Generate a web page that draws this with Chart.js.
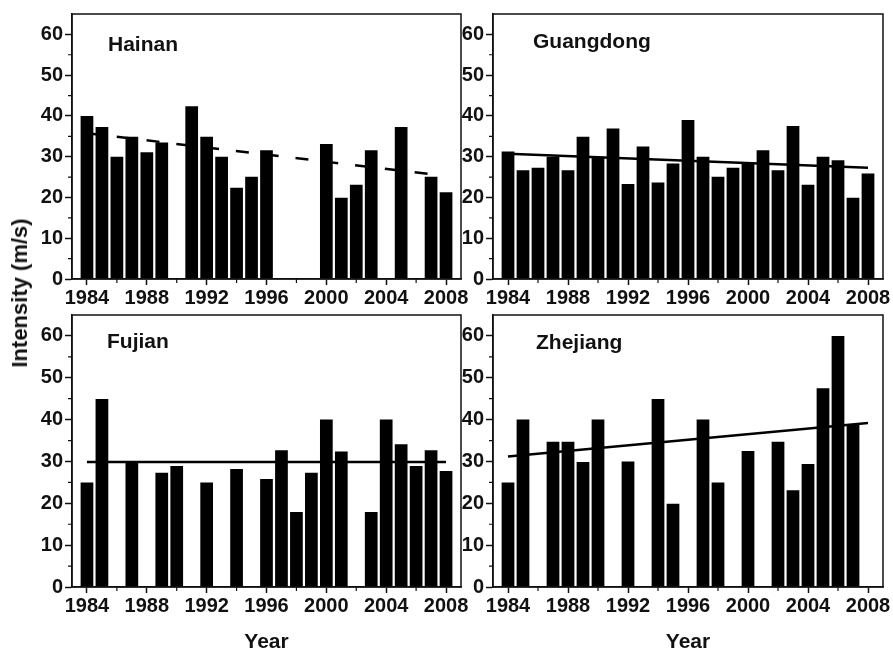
<!DOCTYPE html>
<html lang="en">
<head>
<meta charset="UTF-8">
<title>Typhoon intensity by province, 1984-2008</title>
<script src="https://cdn.jsdelivr.net/npm/chart.js"></script>
<style>
  body { margin: 0; background: #fff; width: 893px; height: 653px; overflow: hidden; position: relative; }
  canvas { position: absolute; }
  #ytitle {
    position: absolute; left: 20px; top: 293px;
    transform: translate(-50%, -50%) rotate(-90deg);
    font: bold 22px "Liberation Sans", Arial, sans-serif; color: #111; white-space: nowrap;
  }
</style>
</head>
<body>
<canvas id="hainan" width="470" height="310" style="left:0;top:0"></canvas>
<canvas id="guangdong" width="453" height="310" style="left:440px;top:0"></canvas>
<canvas id="fujian" width="470" height="353" style="left:0;top:300px"></canvas>
<canvas id="zhejiang" width="453" height="353" style="left:440px;top:300px"></canvas>
<div id="ytitle">Intensity (m/s)</div>

<script>
// values (m/s), years without a bar are left out
const hainanYears = [1984, 1985, 1986, 1987, 1988, 1989, 1991, 1992, 1993, 1994, 1995, 1996, 2000, 2001, 2002, 2003, 2005, 2007, 2008];
const hainanValues = [40, 37.3, 30, 34.9, 31.1, 33.5, 42.4, 34.9, 30, 22.4, 25.1, 31.6, 33.1, 19.9, 23.1, 31.6, 37.3, 25.1, 21.3];
const hainanTrendYears = [1984, 2007];
const hainanTrend = [35.75, 25.7];

const guangdongYears = [1984, 1985, 1986, 1987, 1988, 1989, 1990, 1991, 1992, 1993, 1994, 1995, 1996, 1997, 1998, 1999, 2000, 2001, 2002, 2003, 2004, 2005, 2006, 2007, 2008];
const guangdongValues = [31.3, 26.7, 27.3, 30, 26.7, 34.9, 30, 36.9, 23.3, 32.5, 23.7, 28.3, 39, 30, 25.1, 27.3, 28.3, 31.6, 26.7, 37.5, 23.1, 30, 29.1, 19.9, 25.9];
const guangdongTrendYears = [1984, 2008];
const guangdongTrend = [30.7, 27.3];

const fujianYears = [1984, 1985, 1987, 1989, 1990, 1992, 1994, 1996, 1997, 1998, 1999, 2000, 2001, 2003, 2004, 2005, 2006, 2007, 2008];
const fujianValues = [25, 44.9, 30, 27.3, 28.9, 25, 28.2, 25.8, 32.7, 17.9, 27.3, 40, 32.4, 17.9, 40, 34.1, 28.9, 32.7, 27.7];
const fujianTrendYears = [1984, 2008];
const fujianTrend = [29.9, 29.9];

const zhejiangYears = [1984, 1985, 1987, 1988, 1989, 1990, 1992, 1994, 1995, 1997, 1998, 2000, 2002, 2003, 2004, 2005, 2006, 2007];
const zhejiangValues = [25, 40, 34.7, 34.7, 29.9, 40, 30, 44.9, 19.9, 40, 25, 32.5, 34.7, 23.1, 29.4, 47.5, 60, 38.7];
const zhejiangTrendYears = [1984, 2008];
const zhejiangTrend = [31.2, 39.2];

const FONT = '"Liberation Sans", Arial, sans-serif';
const INK = '#111';

// box around the plot, minor ticks and the province name inside the panel
const framePlugin = {
  id: 'frame',
  afterDraw(chart, args, o) {
    const { ctx, chartArea: a, scales: { x, y } } = chart;
    ctx.save();
    ctx.strokeStyle = INK;
    ctx.lineWidth = 1.5;
    ctx.strokeRect(a.left, a.top, a.right - a.left, a.bottom - a.top);
    ctx.lineWidth = 1.2;
    ctx.beginPath();
    for (let v = 5; v < 65; v += 10) {
      const py = y.getPixelForValue(v);
      ctx.moveTo(a.left - 4, py);
      ctx.lineTo(a.left, py);
    }
    for (let yr = 1986; yr < 2009; yr += 4) {
      const px = x.getPixelForValue(yr);
      ctx.moveTo(px, a.bottom);
      ctx.lineTo(px, a.bottom + 4);
    }
    ctx.stroke();
    ctx.fillStyle = INK;
    ctx.font = 'bold 21px ' + FONT;
    ctx.textBaseline = 'middle';
    ctx.fillText(o.label, a.left + o.dx, a.top + o.dy);
    ctx.restore();
  }
};

function toPoints(xs, ys) {
  return xs.map((yr, i) => ({ x: yr, y: ys[i] }));
}

function makePanel(id, label, years, values, trendYears, trend, opt) {
  const ctx = document.getElementById(id).getContext('2d');
  return new Chart(ctx, {
    type: 'bar',
    data: {
      datasets: [
        {
          type: 'line',
          data: toPoints(trendYears, trend),
          borderColor: '#000',
          borderWidth: 2.5,
          borderDash: opt.dashed ? [13, 17] : [],
          pointRadius: 0,
          order: 0
        },
        {
          data: toPoints(years, values),
          backgroundColor: '#000',
          barPercentage: 0.85,
          categoryPercentage: 1,
          order: 1
        }
      ]
    },
    options: {
      responsive: false,
      animation: false,
      layout: { padding: { left: 0, top: opt.top, right: opt.right, bottom: 0 } },
      plugins: {
        legend: { display: false },
        tooltip: { enabled: false },
        frame: { label: label, dx: opt.dx, dy: opt.dy }
      },
      scales: {
        x: {
          type: 'linear',
          min: 1983,
          max: 2009,
          offset: false,
          afterFit: s => { s.height = opt.xh; },
          border: { color: INK, width: 1.5 },
          grid: { drawOnChartArea: false, tickLength: 6, tickColor: INK, tickWidth: 1.5, offset: false },
          ticks: {
            stepSize: 4,
            includeBounds: false,
            autoSkip: false,
            maxRotation: 0,
            padding: 1,
            color: INK,
            font: { family: FONT, size: 20, weight: 'bold' },
            callback: v => String(v)
          },
          title: {
            display: !!opt.xTitle,
            text: 'Year',
            color: INK,
            padding: 0,
            font: { family: FONT, size: 21, weight: 'bold', lineHeight: 1 }
          }
        },
        y: {
          min: 0,
          max: 65,
          afterFit: s => { s.width = opt.yw; },
          border: { color: INK, width: 1.5 },
          grid: { drawOnChartArea: false, tickLength: 7, tickColor: INK, tickWidth: 1.5 },
          ticks: {
            stepSize: 10,
            includeBounds: false,
            padding: 2,
            color: INK,
            font: { family: FONT, size: 20, weight: 'bold' }
          }
        }
      }
    },
    plugins: [framePlugin]
  });
}

makePanel('hainan', 'Hainan', hainanYears, hainanValues, hainanTrendYears, hainanTrend,
  { dashed: true, top: 8, right: 9, yw: 72, xh: 31, dx: 36, dy: 31 });
makePanel('guangdong', 'Guangdong', guangdongYears, guangdongValues, guangdongTrendYears, guangdongTrend,
  { top: 8, right: 10, yw: 53, xh: 31, dx: 40, dy: 28.5 });
makePanel('fujian', 'Fujian', fujianYears, fujianValues, fujianTrendYears, fujianTrend,
  { top: 15, right: 9, yw: 72, xh: 66, dx: 35, dy: 27.5, xTitle: true });
makePanel('zhejiang', 'Zhejiang', zhejiangYears, zhejiangValues, zhejiangTrendYears, zhejiangTrend,
  { top: 15, right: 10, yw: 53, xh: 66, dx: 43, dy: 28.7, xTitle: true });
</script>
</body>
</html>
